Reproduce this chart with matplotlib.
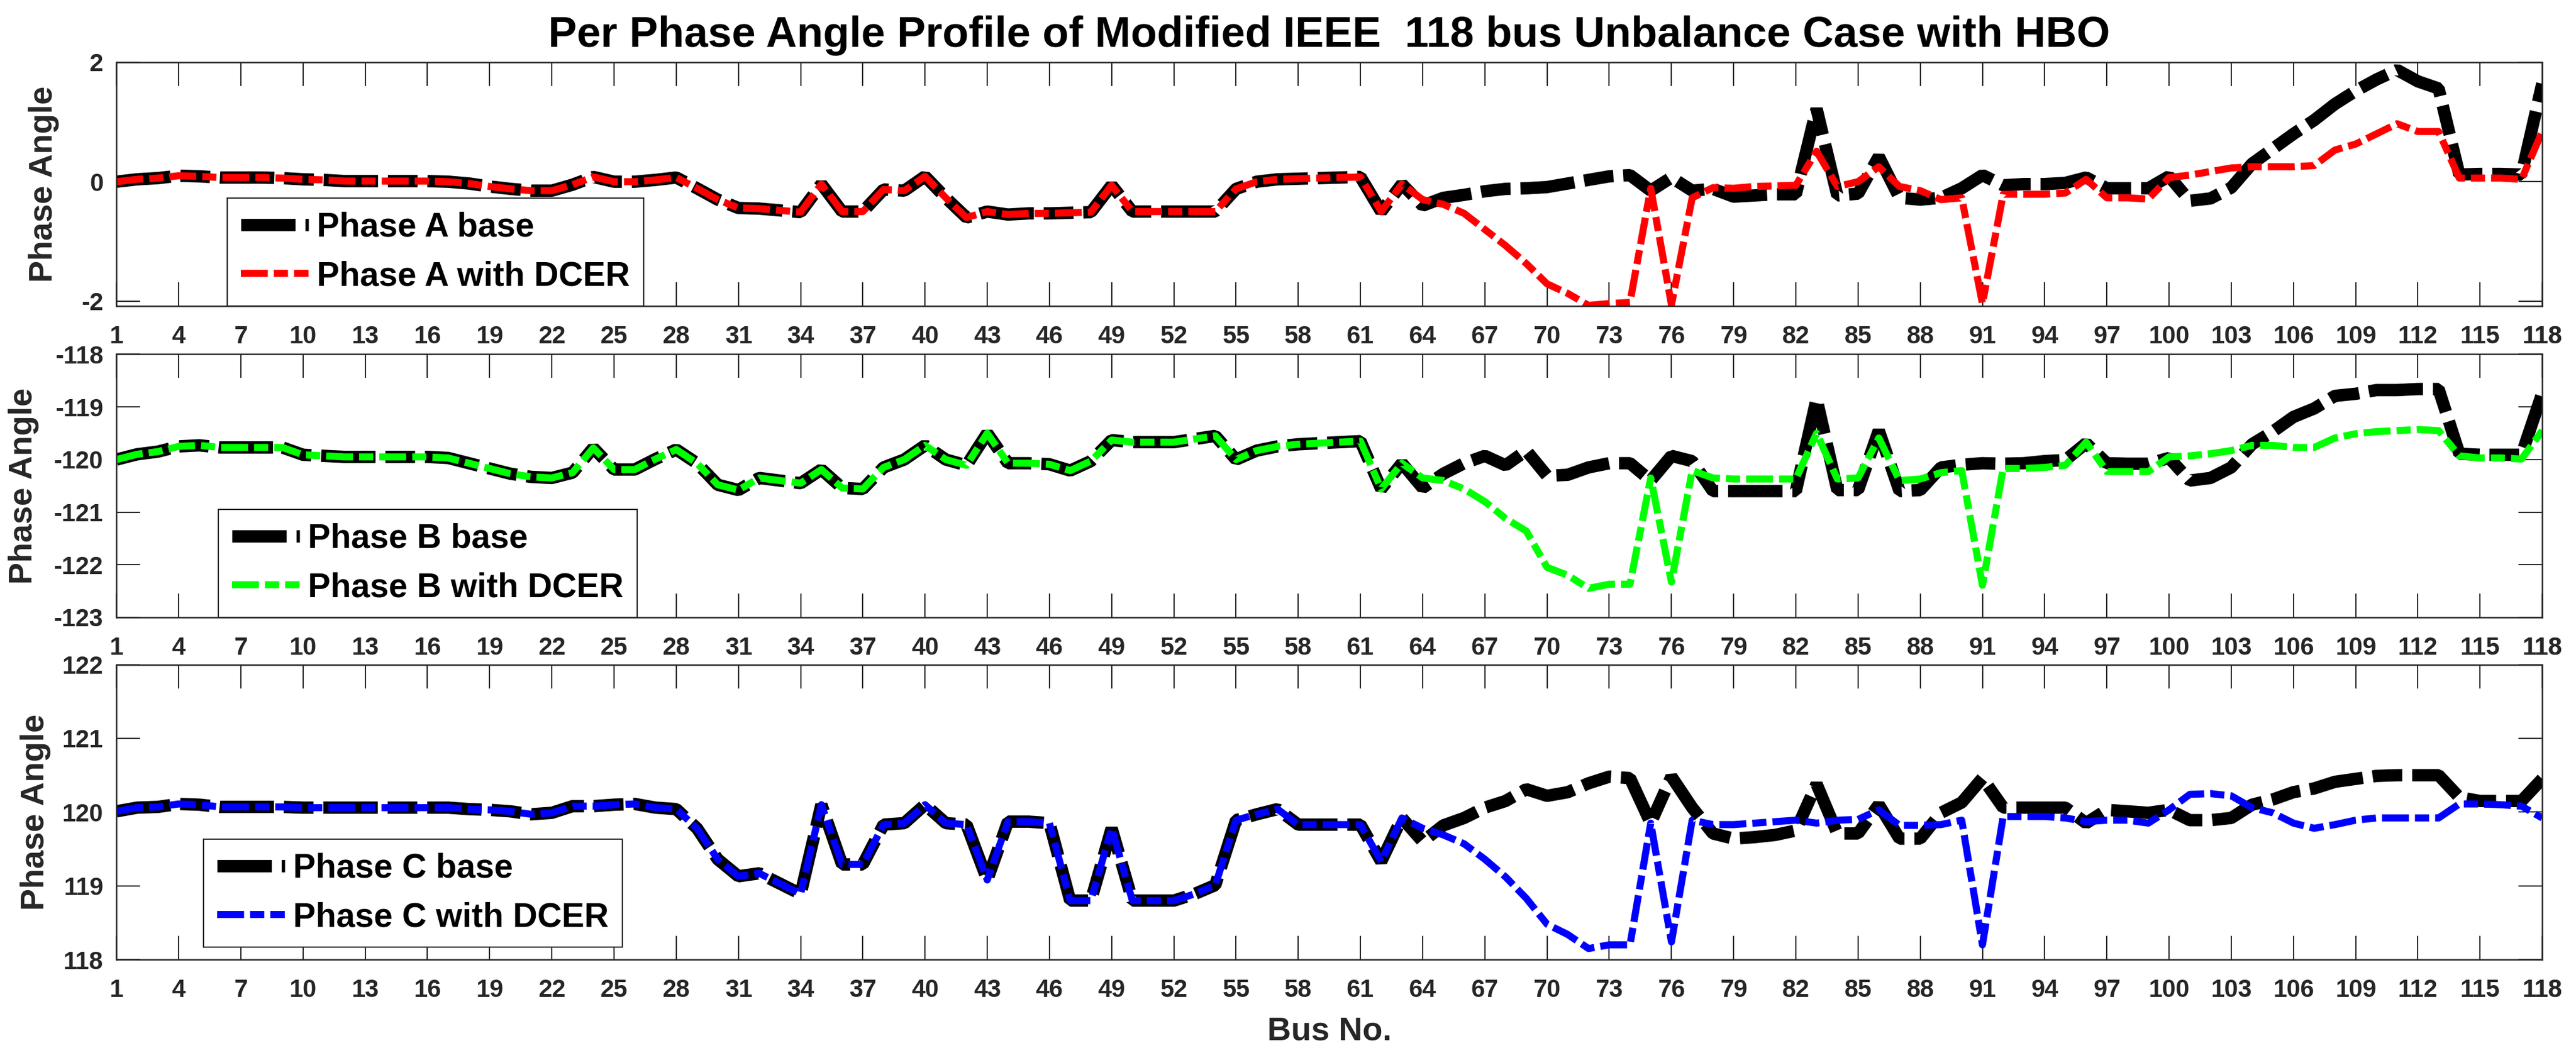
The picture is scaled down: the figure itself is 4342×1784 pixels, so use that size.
import numpy as np
import matplotlib
matplotlib.use("Agg")
import matplotlib.pyplot as plt

plt.rcParams['font.family'] = ['Liberation Sans', 'DejaVu Sans']
plt.rcParams['font.weight'] = 'bold'
plt.rcParams['axes.unicode_minus'] = False

bus = np.arange(1, 119)

# ---- Phase A (buses 1-63 identical for both cases) ----
phase_a_common = [0.0, 0.04, 0.06, 0.10, 0.09, 0.07, 0.07, 0.07, 0.06, 0.04,
                  0.03, 0.01, 0.01, 0.01, 0.01, 0.01, 0.0, -0.03, -0.08, -0.12,
                  -0.15, -0.15, -0.05, 0.08, 0.0, 0.0, 0.03, 0.07, -0.11, -0.30,
                  -0.44, -0.45, -0.48, -0.51, -0.04, -0.50, -0.50, -0.13, -0.15, 0.09,
                  -0.27, -0.60, -0.50, -0.55, -0.53, -0.53, -0.52, -0.51, -0.06, -0.50,
                  -0.50, -0.50, -0.50, -0.50, -0.12, 0.0, 0.04, 0.05, 0.06, 0.07,
                  0.08, -0.50, -0.04]
phase_a_base_tail = [-0.40, -0.27, -0.22, -0.16, -0.12, -0.11, -0.09, -0.03, 0.03, 0.09,
                     0.11, -0.15, 0.07, -0.15, -0.12, -0.25, -0.23, -0.21, -0.21, 1.22,
                     -0.23, -0.20, 0.42, -0.27, -0.30, -0.27, -0.11, 0.11, -0.06, -0.04,
                     -0.04, -0.02, 0.07, -0.11, -0.11, -0.11, 0.09, -0.32, -0.28, -0.10,
                     0.30, 0.55, 0.80, 1.03, 1.30, 1.52, 1.71, 1.87, 1.68, 1.56,
                     0.12, 0.13, 0.13, 0.12, 1.64]
phase_a_dcer_tail = [-0.30, -0.38, -0.53, -0.80, -1.07, -1.37, -1.71, -1.87, -2.07, -2.04,
                     -2.02, -0.11, -2.06, -0.27, -0.10, -0.11, -0.08, -0.07, -0.06, 0.51,
                     -0.08, 0.0, 0.25, -0.08, -0.15, -0.30, -0.27, -2.04, -0.21, -0.21,
                     -0.21, -0.19, 0.04, -0.27, -0.27, -0.29, 0.07, 0.11, 0.17, 0.23,
                     0.25, 0.25, 0.25, 0.27, 0.53, 0.63, 0.80, 0.97, 0.84, 0.84,
                     0.06, 0.06, 0.06, 0.04, 0.84]

# ---- Phase B ----
phase_b_common = [-120.0, -119.90, -119.85, -119.75, -119.73, -119.77, -119.77, -119.77, -119.77, -119.91,
                  -119.93, -119.95, -119.95, -119.95, -119.95, -119.95, -119.97, -120.07, -120.17, -120.27,
                  -120.33, -120.35, -120.25, -119.78, -120.19, -120.19, -119.99, -119.81, -120.07, -120.48,
                  -120.58, -120.35, -120.40, -120.45, -120.19, -120.54, -120.56, -120.15, -120.0, -119.73,
                  -120.0, -120.11, -119.50, -120.07, -120.07, -120.09, -120.21, -120.03, -119.63, -119.67,
                  -119.67, -119.67, -119.61, -119.55, -120.0, -119.83, -119.75, -119.71, -119.69, -119.67,
                  -119.65, -120.56, -120.07]
phase_b_base_tail = [-120.54, -120.27, -120.07, -119.93, -120.11, -119.83, -120.31, -120.29, -120.15, -120.07,
                     -120.07, -120.40, -119.93, -120.03, -120.60, -120.60, -120.60, -120.60, -120.60, -118.85,
                     -120.58, -120.58, -119.45, -120.60, -120.58, -120.15, -120.10, -120.07, -120.08, -120.07,
                     -120.03, -120.01, -119.69, -120.07, -120.08, -120.08, -119.97, -120.40, -120.35, -120.15,
                     -119.71, -119.47, -119.19, -119.03, -118.79, -118.75, -118.68, -118.68, -118.66, -118.66,
                     -119.89, -119.91, -119.91, -119.91, -118.74]
phase_b_dcer_tail = [-120.35, -120.40, -120.56, -120.80, -121.12, -121.36, -122.05, -122.20, -122.45, -122.37,
                     -122.37, -120.35, -122.33, -120.21, -120.35, -120.37, -120.37, -120.37, -120.37, -119.50,
                     -120.37, -120.35, -119.59, -120.40, -120.37, -120.25, -120.21, -122.39, -120.17, -120.17,
                     -120.15, -120.11, -119.67, -120.23, -120.23, -120.23, -119.95, -119.93, -119.89, -119.83,
                     -119.73, -119.73, -119.77, -119.77, -119.59, -119.51, -119.47, -119.45, -119.43, -119.45,
                     -119.93, -119.97, -119.97, -119.99, -119.45]

# ---- Phase C ----
phase_c_common = [120.01, 120.06, 120.07, 120.11, 120.10, 120.07, 120.07, 120.07, 120.07, 120.06,
                  120.06, 120.06, 120.06, 120.06, 120.06, 120.06, 120.06, 120.04, 120.03, 120.01,
                  119.97, 119.99, 120.08, 120.08, 120.10, 120.11, 120.06, 120.04, 119.78, 119.36,
                  119.13, 119.17, 119.03, 118.89, 120.10, 119.29, 119.29, 119.83, 119.85, 120.10,
                  119.85, 119.83, 119.08, 119.87, 119.87, 119.85, 118.80, 118.80, 119.78, 118.80,
                  118.80, 118.80, 118.89, 119.01, 119.89, 119.97, 120.04, 119.83, 119.83, 119.83,
                  119.83, 119.33, 119.92]
phase_c_base_tail = [119.60, 119.82, 119.92, 120.06, 120.15, 120.31, 120.22, 120.27, 120.39, 120.48,
                     120.46, 119.85, 120.48, 120.06, 119.71, 119.64, 119.66, 119.69, 119.75, 120.38,
                     119.71, 119.71, 120.10, 119.64, 119.64, 119.99, 120.13, 120.46, 120.06, 120.06,
                     120.06, 120.06, 119.85, 120.03, 120.01, 119.99, 120.03, 119.89, 119.89, 119.92,
                     120.10, 120.17, 120.27, 120.32, 120.41, 120.45, 120.49, 120.50, 120.50, 120.50,
                     120.20, 120.15, 120.15, 120.15, 120.45]
phase_c_dcer_tail = [119.78, 119.69, 119.57, 119.36, 119.12, 118.83, 118.48, 118.34, 118.15, 118.20,
                     118.20, 119.85, 118.24, 119.89, 119.83, 119.83, 119.85, 119.87, 119.89, 119.85,
                     119.89, 119.90, 120.03, 119.82, 119.82, 119.83, 119.89, 118.20, 119.94, 119.94,
                     119.94, 119.92, 119.87, 119.89, 119.89, 119.85, 120.03, 120.24, 120.25, 120.22,
                     120.06, 119.99, 119.85, 119.78, 119.83, 119.89, 119.92, 119.92, 119.92, 119.92,
                     120.11, 120.11, 120.10, 120.08, 119.92]

panels = [
    ("A", phase_a_common + phase_a_base_tail, phase_a_common + phase_a_dcer_tail, "#ff0000",
     (-2.08, 2), [-2, 0, 2]),
    ("B", phase_b_common + phase_b_base_tail, phase_b_common + phase_b_dcer_tail, "#00ff00",
     (-123, -118), [-123, -122, -121, -120, -119, -118]),
    ("C", phase_c_common + phase_c_base_tail, phase_c_common + phase_c_dcer_tail, "#0000ff",
     (118, 122), [118, 119, 120, 121, 122]),
]

# axes rectangles in figure fraction (left, bottom, width, height)
rects = [(0.0452, 0.7108, 0.9417, 0.2304),
         (0.0452, 0.4165, 0.9417, 0.2486),
         (0.0452, 0.0930, 0.9417, 0.2789)]
legend_anchor = [(0.0457, 0.0), (0.042, 0.0), (0.036, 0.042)]
ylabel_x = [-0.0235, -0.0318, -0.0269]

axc = '#262626'
fig = plt.figure(figsize=(43.42, 17.84), dpi=100)

axes = []
for i, (ph, base, dcer, col, ylim, yt) in enumerate(panels):
    ax = fig.add_axes(rects[i])
    axes.append(ax)
    ax.plot(bus, base, color='k', lw=15, dashes=(4.4, 0.8, 2.4, 0.8),
            dash_capstyle='butt', dash_joinstyle='bevel', label=f"Phase {ph} base")
    ax.plot(bus, dcer, color=col, lw=8.6, dashes=(3.8, 0.85, 2.0, 0.85),
            dash_capstyle='butt', dash_joinstyle='round', label=f"Phase {ph} with DCER")
    ax.set_xlim(1, 118)
    ax.set_ylim(*ylim)
    ax.set_yticks(yt)
    ax.set_xticks(list(range(1, 119, 3)) + [118])
    ax.tick_params(axis='both', direction='in', length=29, width=1.5, colors=axc,
                   top=True, right=True, labelsize=30)
    ax.tick_params(axis='x', pad=23)
    ax.tick_params(axis='y', pad=16)
    for s in ax.spines.values():
        s.set_linewidth(1.8)
        s.set_color(axc)
    ax.set_ylabel('Phase Angle', fontsize=40, fontweight='bold', color=axc)
    ax.yaxis.set_label_coords(ylabel_x[i], 0.5)
    leg = ax.legend(loc='lower left', bbox_to_anchor=legend_anchor[i], borderaxespad=0,
                    fontsize=41, handlelength=2.0, handletextpad=0.25, borderpad=0.4,
                    labelspacing=0.5, fancybox=False, framealpha=1, edgecolor=axc)
    leg.get_frame().set_linewidth(1.5)
    for t in leg.get_texts():
        t.set_fontweight('bold')

axes[0].set_title('Per Phase Angle Profile of Modified IEEE  118 bus Unbalance Case with HBO',
                  fontsize=52, fontweight='bold', pad=19)
axes[2].set_xlabel('Bus No.', fontsize=40, fontweight='bold', color=axc)
axes[2].xaxis.set_label_coords(0.5, -0.191)

fig.savefig('out.png', dpi=100)
